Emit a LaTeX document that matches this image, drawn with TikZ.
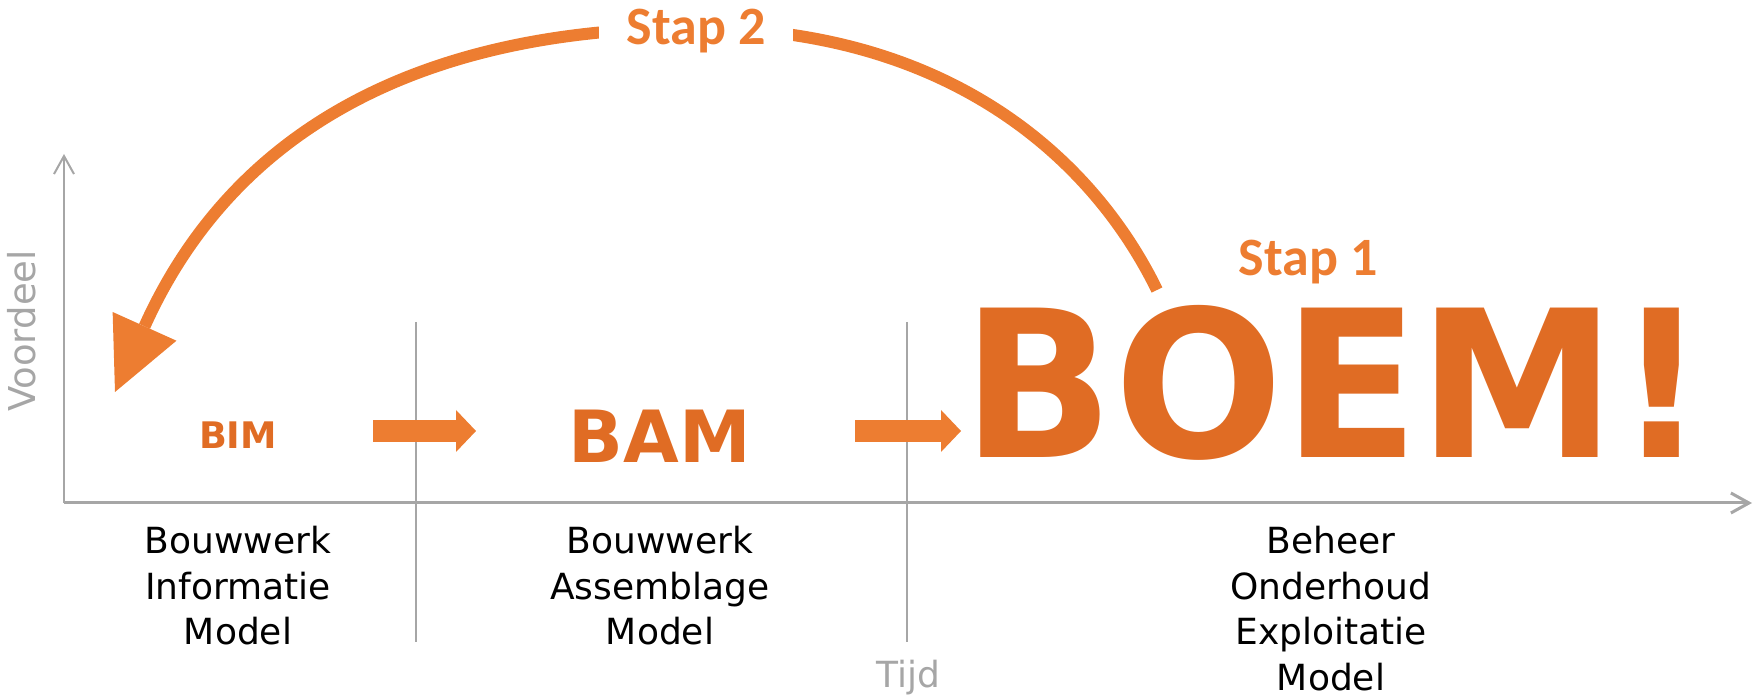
\documentclass[tikz,border=0pt]{standalone}
\usepackage{fontspec}
\setmainfont{DejaVu Sans}
\newfontfamily\stapfont{Carlito}
\usetikzlibrary{arrows.meta,positioning}
\definecolor{oranje}{HTML}{ED7D31}
\definecolor{boemoranje}{HTML}{E06C24}
\definecolor{asgrijs}{HTML}{A6A6A6}

\begin{document}
\begin{tikzpicture}[x=0.5pt,y=-0.5pt,
    as/.style={asgrijs, line width=1pt},
    tekst/.style={font=\fontsize{18}{22.8}\selectfont, align=center, inner sep=0pt, anchor=base},
    uitleg/.style={tekst, anchor=north},
    woord/.style={boemoranje, inner sep=0pt, anchor=base},
    stap/.style={oranje, inner sep=0pt, anchor=base, font=\stapfont\bfseries\fontsize{27}{30}\selectfont},
    blok/.style={oranje, line width=11pt, -{Triangle[length=10pt,width=21pt,line width=0pt]}},
    boog/.style={oranje, line width=6pt, -{Triangle[length=36pt,width=35pt,line width=0pt]}}]
    \useasboundingbox (0,0) rectangle (1758,699);
    % Axes
    \coordinate (oorsprong) at (64,503);
    \coordinate (ytop) at (64,154);
    \coordinate (xeind) at (1752,503);
    \draw[as, -{Straight Barb[length=9pt,width=10pt]}] (oorsprong) -- (ytop);
    \draw[asgrijs, line width=1.5pt, -{Straight Barb[length=9pt,width=10pt]}] (oorsprong) -- (xeind);
    \node[tekst, asgrijs, rotate=90, font=\fontsize{18.5}{22}\selectfont] (voordeel) at (35,331) {Voordeel};
    \node[tekst, asgrijs] (tijd) at (908,688) {Tijd};
    % Dividers
    \draw[as] (416,322) -- (416,642);
    \draw[as] (907,322) -- (907,642);
    % Words
    \node[woord, font=\bfseries\fontsize{18.3}{20}\selectfont] (bim) at (238,449) {BIM};
    \node[woord, font=\bfseries\fontsize{36}{40}\selectfont] (bam) at (660,463) {BAM};
    \node[woord, xscale=0.97, font=\bfseries\fontsize{102.5}{104}\selectfont] (boem) at (1335,458) {BOEM!};
    % Block arrows
    \coordinate (pijl1a) at (373,431);
    \coordinate (pijl1b) at (476,431);
    \coordinate (pijl2a) at (855,431);
    \coordinate (pijl2b) at (961,431);
    \draw[blok] (pijl1a) -- (pijl1b);
    \draw[blok] (pijl2a) -- (pijl2b);
    % Descriptions
    \node[uitleg] (bimtekst) at (238,526) {Bouwwerk\\Informatie\\Model};
    \node[uitleg] (bamtekst) at (660,526) {Bouwwerk\\Assemblage\\Model};
    \node[uitleg] (boemtekst) at (1331,526) {Beheer\\Onderhoud\\Exploitatie\\Model};
    % Steps
    \node[stap] (stapeen) at (1308,276) {Stap 1};
    \coordinate (boogstart) at (1157,290);
    \coordinate (boogeind) at (115,392);
    \draw[boog] (boogstart) .. controls (1091,155) and (945,28) .. (695,28)
        .. controls (465,28) and (246,101) .. (boogeind);
    \node[stap, fill=white, inner xsep=14pt, inner ysep=4pt] (staptwee) at (696,45) {Stap 2};
\end{tikzpicture}
\end{document}
